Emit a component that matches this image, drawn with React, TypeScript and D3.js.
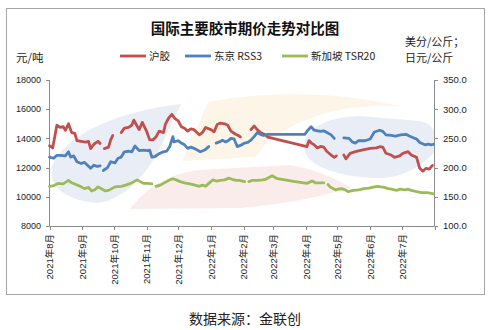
import React from "react";
import * as d3 from "d3";

const title = "国际主要胶市期价走势对比图";
const source = "数据来源：金联创";
const seriesNames = ["沪胶", "东京 RSS3", "新加坡 TSR20"];
const seriesColors = ["#C0504D", "#4F81BD", "#9BBB59"];
const leftTicks = [8000, 10000, 12000, 14000, 16000, 18000];
const rightTicks = [100, 150, 200, 250, 300, 350];

type P = [string, number | null];

const shfe: P[] = [
  ["2021-08-01", 13500], ["2021-08-04", 13350], ["2021-08-08", 14900], ["2021-08-11", 14750],
  ["2021-08-14", 14800], ["2021-08-16", 14550], ["2021-08-19", 15000], ["2021-08-22", 14400],
  ["2021-08-25", 14350], ["2021-08-27", 13850], ["2021-08-31", 13800], ["2021-09-04", 13750],
  ["2021-09-07", 13800], ["2021-09-09", 13300], ["2021-09-12", 13600], ["2021-09-16", 13800],
  ["2021-09-18", 13650], ["2021-09-20", null], ["2021-09-22", 13300], ["2021-09-26", 13400],
  ["2021-09-28", 13900], ["2021-09-30", 14200], ["2021-10-04", null], ["2021-10-08", 14400],
  ["2021-10-11", 14700], ["2021-10-15", 14750], ["2021-10-18", 14900], ["2021-10-20", 15250],
  ["2021-10-23", 14850], ["2021-10-25", 14600], ["2021-10-28", 15100], ["2021-11-01", 14500],
  ["2021-11-04", 13900], ["2021-11-07", 13900], ["2021-11-10", 14100], ["2021-11-13", 14500],
  ["2021-11-17", 14400], ["2021-11-19", 15000], ["2021-11-22", 15400], ["2021-11-25", 15650],
  ["2021-11-28", 15350], ["2021-12-01", 15200], ["2021-12-04", 14800], ["2021-12-07", 14700],
  ["2021-12-10", 14500], ["2021-12-13", 14650], ["2021-12-16", 14600], ["2021-12-21", 14250],
  ["2021-12-24", 14400], ["2021-12-27", 14750], ["2022-01-01", 14600], ["2022-01-04", 14450],
  ["2022-01-07", 14950], ["2022-01-10", 15050], ["2022-01-14", 15000], ["2022-01-17", 14900],
  ["2022-01-20", 14500], ["2022-01-24", 14300], ["2022-01-27", 14200], ["2022-01-29", 14100],
  ["2022-02-03", null], ["2022-02-08", 14600], ["2022-02-11", 14850], ["2022-02-14", 14600],
  ["2022-02-17", 14400], ["2022-02-22", 14230], ["2022-02-24", 14080], ["2022-04-02", 13430],
  ["2022-04-04", 13850], ["2022-04-06", 13700], ["2022-04-09", 13550], ["2022-04-12", 13350],
  ["2022-04-15", 13450], ["2022-04-18", 13400], ["2022-04-21", 13100], ["2022-04-25", 12860],
  ["2022-04-28", 12700], ["2022-04-30", 12800], ["2022-05-04", null], ["2022-05-07", 12860],
  ["2022-05-09", 12600], ["2022-05-13", 12980], ["2022-05-18", 13090], ["2022-05-24", 13200],
  ["2022-06-01", 13320], ["2022-06-07", 13350], ["2022-06-10", 13430], ["2022-06-13", 13400],
  ["2022-06-16", 12980], ["2022-06-21", 12860], ["2022-06-24", 12700], ["2022-06-29", 12800],
  ["2022-07-02", 12980], ["2022-07-07", 13090], ["2022-07-10", 12860], ["2022-07-15", 12700],
  ["2022-07-18", 11950], ["2022-07-21", 11750], ["2022-07-24", 11950], ["2022-07-27", 11900],
  ["2022-07-30", 12150],
];

const rss3: P[] = [
  ["2021-08-01", 218], ["2021-08-05", 216], ["2021-08-08", 221], ["2021-08-11", 221],
  ["2021-08-16", 220], ["2021-08-19", 227], ["2021-08-21", 218], ["2021-08-24", 220],
  ["2021-08-27", 210], ["2021-08-31", 207], ["2021-09-03", 209], ["2021-09-06", 204],
  ["2021-09-09", 199], ["2021-09-12", 204], ["2021-09-15", 202], ["2021-09-18", 203],
  ["2021-09-19", null], ["2021-09-21", 195], ["2021-09-25", 200], ["2021-09-28", 210],
  ["2021-10-02", 208], ["2021-10-05", 216], ["2021-10-08", 218], ["2021-10-11", 227],
  ["2021-10-15", 228], ["2021-10-18", 227], ["2021-10-21", 237], ["2021-10-25", 229],
  ["2021-10-29", 230], ["2021-11-02", 229], ["2021-11-04", 230], ["2021-11-06", 218],
  ["2021-11-09", 219], ["2021-11-13", 224], ["2021-11-17", 227], ["2021-11-20", 228],
  ["2021-11-23", 236], ["2021-11-24", 242], ["2021-11-26", 253], ["2021-11-27", 244],
  ["2021-12-01", 246], ["2021-12-04", 242], ["2021-12-07", 239], ["2021-12-10", 233],
  ["2021-12-13", 235], ["2021-12-16", 233], ["2021-12-19", 230], ["2021-12-22", 227],
  ["2021-12-26", 230], ["2021-12-30", 236], ["2022-01-02", null], ["2022-01-06", 242],
  ["2022-01-09", 244], ["2022-01-12", 247], ["2022-01-15", 244], ["2022-01-18", 247],
  ["2022-01-20", 250], ["2022-01-23", 249], ["2022-01-26", 236], ["2022-01-29", 238],
  ["2022-02-02", 242], ["2022-02-05", 243], ["2022-02-08", 247], ["2022-02-11", 253],
  ["2022-02-14", 260], ["2022-02-17", 257], ["2022-02-20", 255], ["2022-02-24", 257],
  ["2022-03-31", 257], ["2022-04-03", 264], ["2022-04-06", 270], ["2022-04-09", 264],
  ["2022-04-12", 263], ["2022-04-15", 262], ["2022-04-18", 263], ["2022-04-21", 260],
  ["2022-04-25", 256], ["2022-04-28", 250], ["2022-05-02", null],
  ["2022-05-07", 251], ["2022-05-12", 250], ["2022-05-15", 244], ["2022-05-18", 242],
  ["2022-05-21", 246], ["2022-05-27", 246], ["2022-06-01", 249], ["2022-06-05", 261],
  ["2022-06-10", 264], ["2022-06-13", 262], ["2022-06-16", 256], ["2022-06-21", 255],
  ["2022-06-25", 254], ["2022-06-30", 256], ["2022-07-05", 257], ["2022-07-08", 254],
  ["2022-07-12", 251], ["2022-07-15", 249], ["2022-07-18", 243], ["2022-07-23", 239],
  ["2022-07-26", 240], ["2022-07-29", 239], ["2022-07-31", 240],
];

const tsr20: P[] = [
  ["2021-08-01", 168], ["2021-08-05", 169], ["2021-08-09", 173], ["2021-08-14", 172],
  ["2021-08-19", 178], ["2021-08-22", 174], ["2021-08-25", 172], ["2021-08-30", 168],
  ["2021-09-03", 164], ["2021-09-07", 166], ["2021-09-10", 160], ["2021-09-13", 162],
  ["2021-09-16", 167], ["2021-09-20", 163], ["2021-09-23", 160], ["2021-09-26", 161],
  ["2021-09-29", 164], ["2021-10-02", 167], ["2021-10-08", 168], ["2021-10-12", 170],
  ["2021-10-17", 173], ["2021-10-20", 176], ["2021-10-23", 179], ["2021-10-26", 176],
  ["2021-10-29", 173], ["2021-11-02", 173], ["2021-11-06", 172], ["2021-11-08", null],
  ["2021-11-10", 168], ["2021-11-14", 170], ["2021-11-17", 173], ["2021-11-20", 176],
  ["2021-11-23", 179], ["2021-11-26", 181], ["2021-11-29", 179], ["2021-12-03", 176],
  ["2021-12-07", 174], ["2021-12-12", 172], ["2021-12-17", 170], ["2021-12-21", 168],
  ["2021-12-24", 170], ["2021-12-27", 168], ["2021-12-30", 173], ["2022-01-03", 179],
  ["2022-01-06", 177], ["2022-01-10", 178], ["2022-01-14", 179], ["2022-01-18", 182],
  ["2022-01-21", 180], ["2022-01-25", 178], ["2022-01-28", 178], ["2022-02-02", 176],
  ["2022-02-04", null], ["2022-02-06", 176], ["2022-02-09", 178], ["2022-02-14", 178],
  ["2022-02-19", 179], ["2022-02-22", 180], ["2022-02-25", 183], ["2022-02-28", 186],
  ["2022-03-05", 181], ["2022-03-19", 177], ["2022-04-02", 173], ["2022-04-07", 177],
  ["2022-04-10", 174], ["2022-04-15", 174], ["2022-04-18", 174], ["2022-04-20", null],
  ["2022-04-22", 171], ["2022-04-24", 167], ["2022-04-29", 162], ["2022-05-02", 163],
  ["2022-05-05", 164], ["2022-05-08", 162], ["2022-05-11", 159], ["2022-05-16", 161],
  ["2022-05-21", 162], ["2022-05-26", 164], ["2022-05-31", 165], ["2022-06-05", 167],
  ["2022-06-08", 168], ["2022-06-11", 167], ["2022-06-15", 166], ["2022-06-18", 164],
  ["2022-06-21", 163], ["2022-06-26", 161], ["2022-06-29", 163], ["2022-07-04", 162],
  ["2022-07-07", 163], ["2022-07-10", 161], ["2022-07-15", 159], ["2022-07-20", 157],
  ["2022-07-25", 157], ["2022-07-29", 156], ["2022-07-31", 155],
];

const W = 490;
const H = 330;
const plot = { left: 49.5, right: 434.5, top: 80, bottom: 226 };

const parse = d3.utcParse("%Y-%m-%d");
const xStart = new Date(Date.UTC(2021, 7, 1));
const xEnd = new Date(Date.UTC(2022, 7, 1));

const x = d3.scaleUtc().domain([xStart, xEnd]).range([plot.left, plot.right]);
const yL = d3.scaleLinear().domain([8000, 18000]).range([plot.bottom, plot.top]);
const yR = d3.scaleLinear().domain([100, 350]).range([plot.bottom, plot.top]);

const months = d3.utcMonth.range(xStart, xEnd);

function makePath(data: P[], y: d3.ScaleLinear<number, number>) {
  const gen = d3
    .line<P>()
    .defined((d) => d[1] !== null)
    .x((d) => x(parse(d[0]) as Date))
    .y((d) => y(d[1] as number))
    .curve(d3.curveLinear);
  return gen(data) || "";
}

const cjk = "'Noto Sans CJK SC', 'Liberation Sans', sans-serif";
const latin = "'Liberation Sans', 'Noto Sans CJK SC', sans-serif";
const axisColor = "#8c8c8c";

export default function App() {
  const lines = [
    { d: makePath(shfe, yL), c: seriesColors[0] },
    { d: makePath(rss3, yR), c: seriesColors[1] },
    { d: makePath(tsr20, yR), c: seriesColors[2] },
  ];
  const legendX = [120, 185, 282];
  return (
    <svg
      width={W}
      height={H}
      style={{ position: "absolute", left: 0, top: 0, background: "#fff" }}
    >
      <rect x={0} y={0} width={W} height={H} fill="#fff" />
      <rect x={6.5} y={8.5} width={478} height={286} fill="none" stroke="#a6a6a6" strokeWidth={1} />

      {/* watermark */}
      <g>
        <path
          d="M52,166 C66,132 125,110 181,104 L160,148 C142,182 122,199 98,203 C70,201 48,190 52,166 Z"
          fill="#e9eef6"
        />
        <path
          d="M182,161 L208,102 C270,90 345,92 402,107 C345,102 300,118 270,140 C262,148 258,154 256,157 Z"
          fill="#fdf6e8"
        />
        <path
          d="M130,209 C148,186 168,174 200,170 L290,165 C318,170 338,180 352,188 C322,196 282,205 240,208 L130,209 Z"
          fill="#faeceb"
        />
        <path
          d="M305,152 C300,130 325,117 360,116 L420,121 C432,124 436,130 434.5,140 L434.5,152 C420,168 400,178 380,178 C345,178 310,168 305,152 Z"
          fill="#e9eef6"
        />
      </g>

      {/* title */}
      <text x={245} y={34} textAnchor="middle" fontFamily={cjk} fontWeight="bold" fontSize={14.5} fill="#111">
        {title}
      </text>

      {/* unit labels */}
      <text x={16} y={62} fontFamily={cjk} fontSize={11.5} fill="#222">元/吨</text>
      <text x={405} y={46} fontFamily={cjk} fontSize={11} fill="#222">美分/公斤；</text>
      <text x={405} y={61.5} fontFamily={cjk} fontSize={11} fill="#222">日元/公斤</text>

      {/* legend */}
      {seriesNames.map((n, i) => (
        <g key={n}>
          <line x1={legendX[i]} x2={legendX[i] + 26} y1={56} y2={56} stroke={seriesColors[i]} strokeWidth={2.8} />
          <text x={legendX[i] + 29} y={60} fontFamily={cjk} fontSize={10.5} fill="#222">
            {n}
          </text>
        </g>
      ))}

      {/* axes */}
      <g stroke={axisColor} strokeWidth={1} fill="none">
        <line x1={plot.left} x2={plot.left} y1={plot.top} y2={plot.bottom} />
        <line x1={plot.right} x2={plot.right} y1={plot.top} y2={plot.bottom} />
        <line x1={plot.left} x2={plot.right} y1={plot.bottom + 0.5} y2={plot.bottom + 0.5} />
        {leftTicks.map((t) => (
          <line key={"lt" + t} x1={plot.left - 3.5} x2={plot.left} y1={Math.round(yL(t)) + 0.5} y2={Math.round(yL(t)) + 0.5} />
        ))}
        {rightTicks.map((t) => (
          <line key={"rt" + t} x1={plot.right} x2={plot.right + 3.5} y1={Math.round(yR(t)) + 0.5} y2={Math.round(yR(t)) + 0.5} />
        ))}
        {[...months, xEnd].map((m) => (
          <line key={"xt" + m.getTime()} x1={Math.round(x(m)) + 0.5} x2={Math.round(x(m)) + 0.5} y1={plot.bottom} y2={plot.bottom + 4} />
        ))}
      </g>

      {leftTicks.map((t) => (
        <text key={"ll" + t} x={41} y={yL(t)} dy="0.35em" textAnchor="end" fontFamily={latin} fontSize={9} fill="#222">
          {t}
        </text>
      ))}
      {rightTicks.map((t) => (
        <text key={"rl" + t} x={443} y={yR(t)} dy="0.35em" textAnchor="start" fontFamily={latin} fontSize={9.5} fill="#222">
          {t.toFixed(1)}
        </text>
      ))}
      {months.map((m) => (
        <text
          key={"xl" + m.getTime()}
          transform={`translate(${x(m) + 0.5},${234}) rotate(-90)`}
          textAnchor="end"
          dy="0.35em"
          fontFamily={latin}
          fontSize={9.5}
          fill="#222"
        >
          {`${m.getUTCFullYear()}年${m.getUTCMonth() + 1}月`}
        </text>
      ))}

      {/* series */}
      {lines.map((l, i) => (
        <path key={i} d={l.d} fill="none" stroke={l.c} strokeWidth={2.8} strokeLinejoin="round" strokeLinecap="round" />
      ))}

      <text x={245} y={324} textAnchor="middle" fontFamily={cjk} fontSize={14} fill="#222">
        {source}
      </text>
    </svg>
  );
}
